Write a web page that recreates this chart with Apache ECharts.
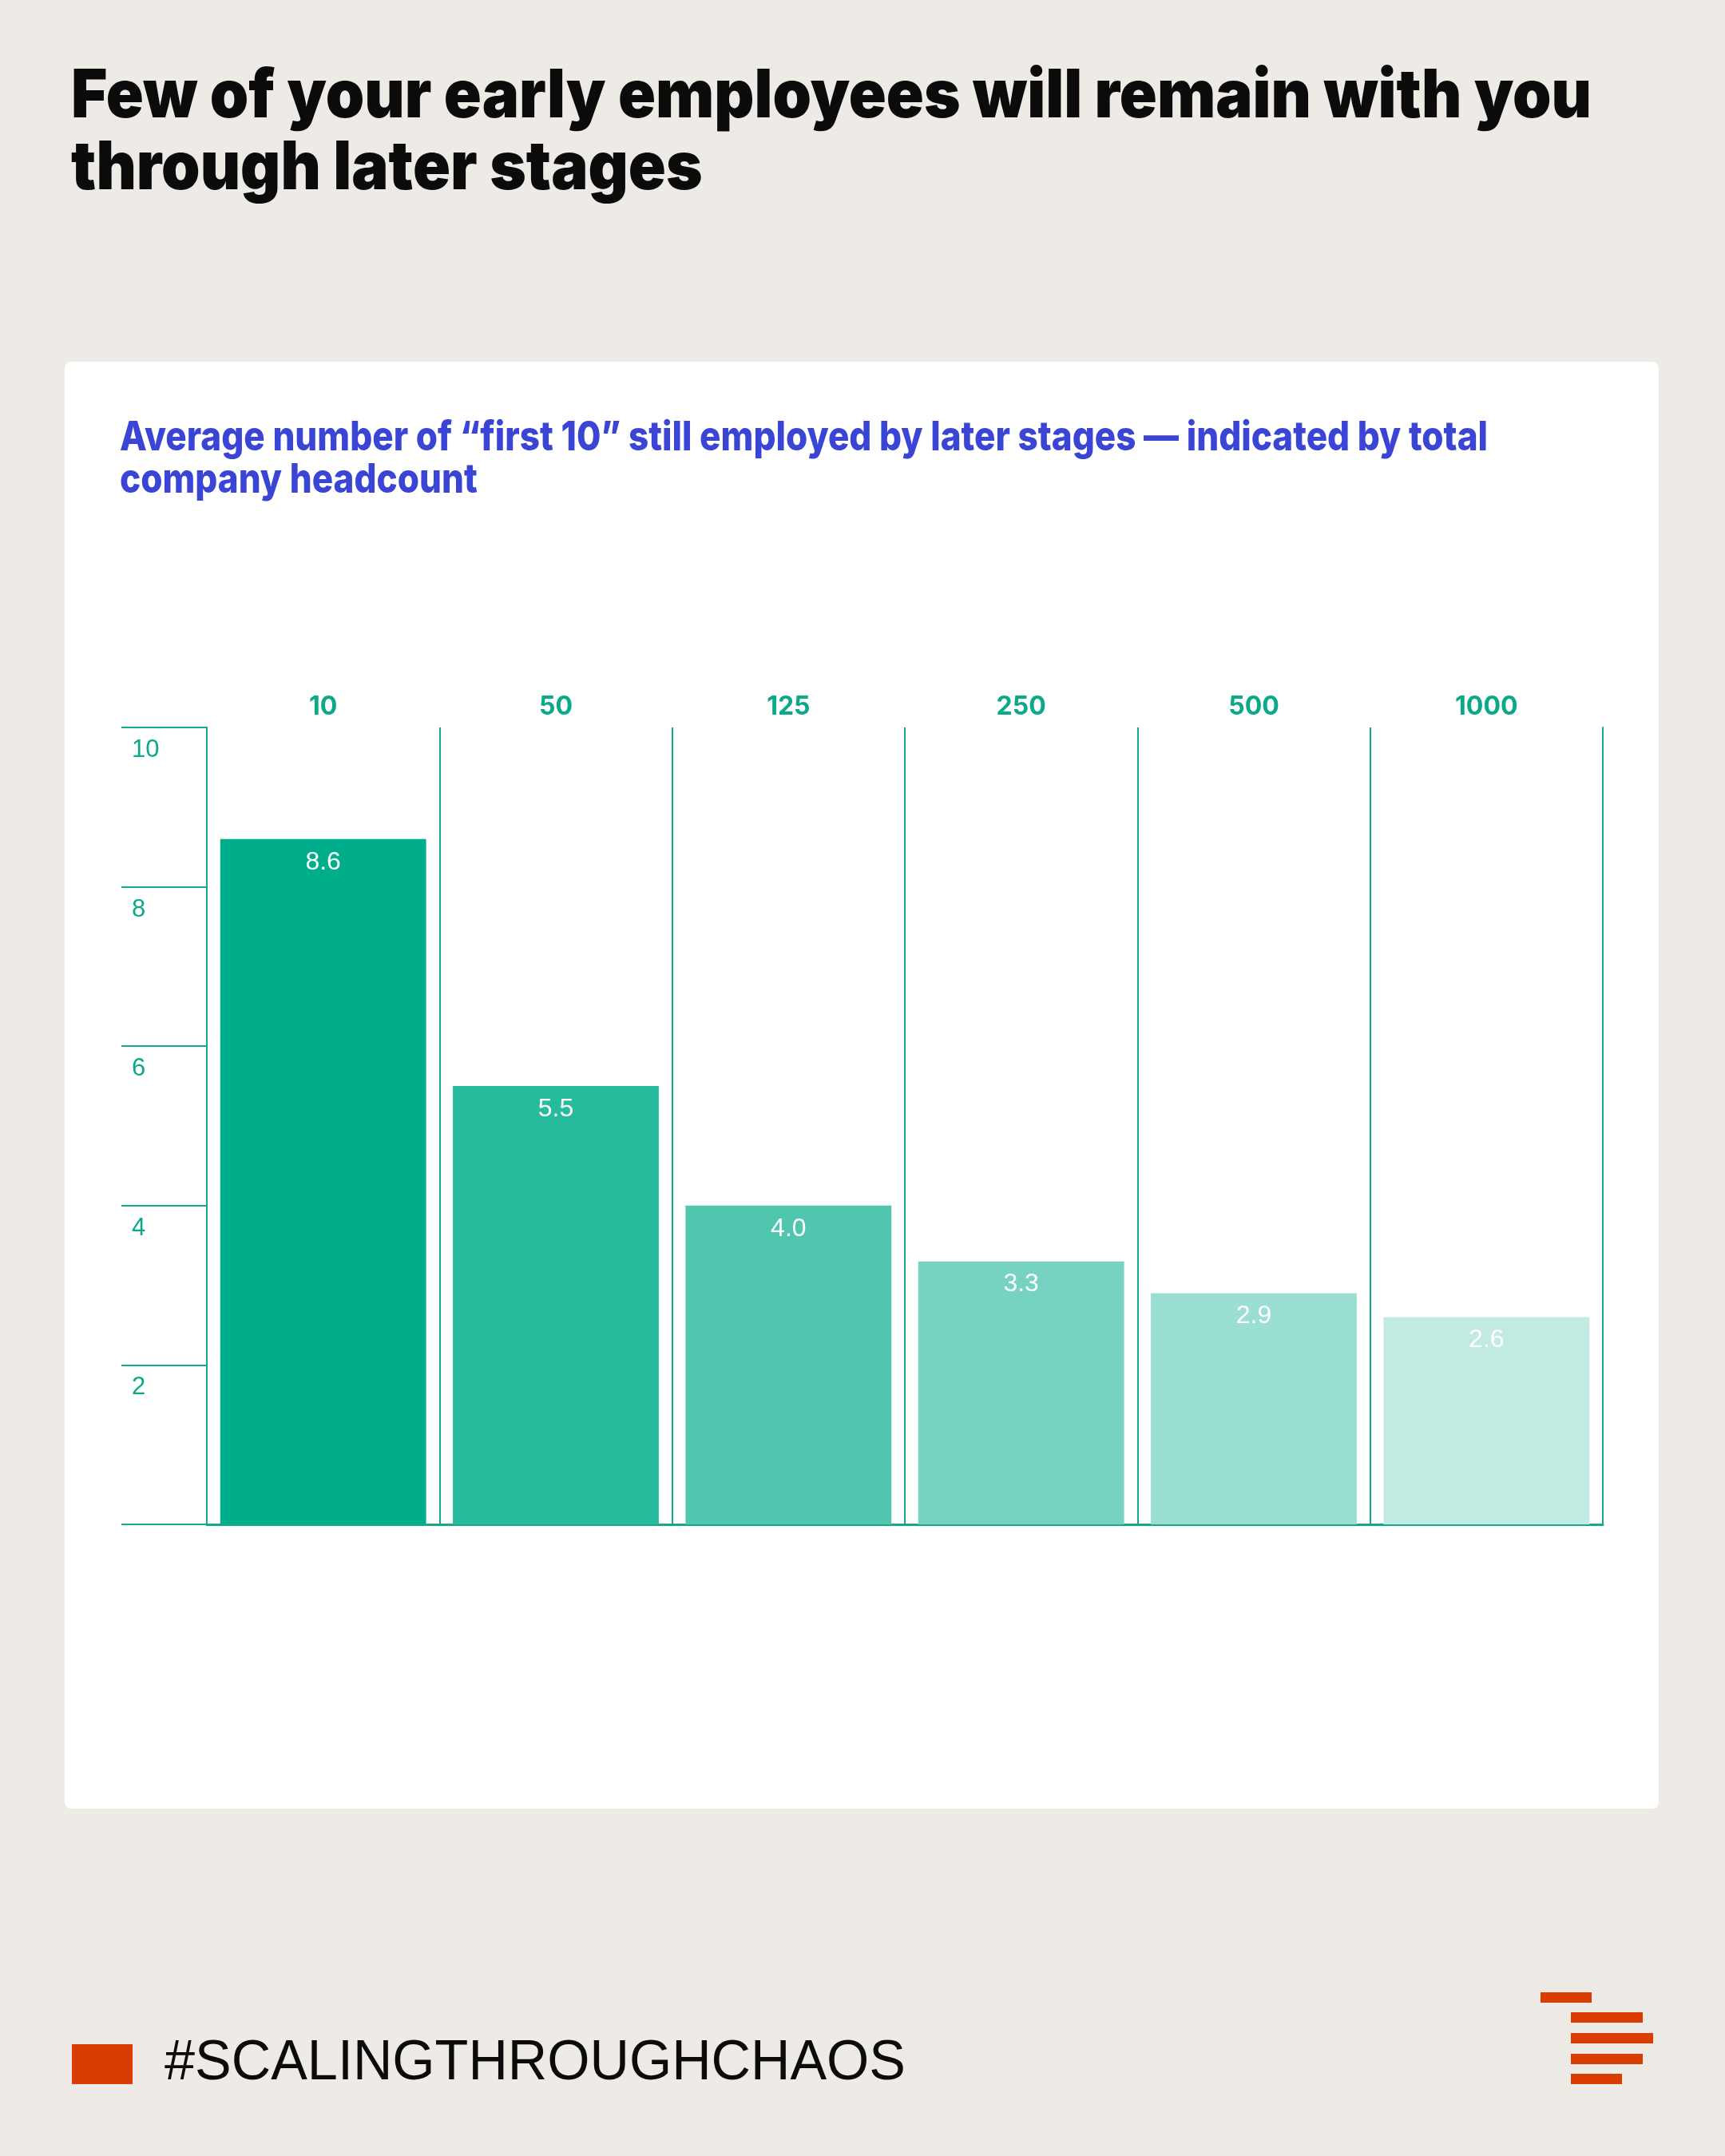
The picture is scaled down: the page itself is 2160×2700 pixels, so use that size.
<!DOCTYPE html>
<html><head><meta charset="utf-8">
<script src="https://cdn.jsdelivr.net/npm/echarts@6/dist/echarts.min.js"></script>
<style>html,body{margin:0;padding:0;background:#EEEBE6}#c{width:2160px;height:2700px}</style>
</head><body><div id="c"></div>
<script>
// ---- data ----
const categories = ['10', '50', '125', '250', '500', '1000'];
const values = [8.6, 5.5, 4.0, 3.3, 2.9, 2.6];
const yTickValues = [0, 2, 4, 6, 8, 10];
const titleLines = ['Few of your early employees will remain with you', 'through later stages'];
const subtitleLines = ['Average number of \u201cfirst 10\u201d still employed by later stages \u2014 indicated by total', 'company headcount'];
const footerText = '#SCALINGTHROUGHCHAOS';

// ---- styles ----
const barColors = ['#00AE8B', '#27BB9E', '#50C6AF', '#76D2C1', '#9BDFD3', '#C1EBE2'];
const lineColor = '#17A98B';
const labelColor = '#0AA98A';
const headFamily = 'Inter, sans-serif';

function textWidth(text, weight, size, family) {
  const ctx = document.createElement('canvas').getContext('2d');
  ctx.font = weight + ' ' + size + 'px ' + family;
  return ctx.measureText(text).width;
}
const titleSize = 84, titleWeight = '900';
const titleScale = 1904 / textWidth(titleLines[0], titleWeight, titleSize, headFamily);
const subSize = 51, subWeight = '800';
const subScale = 1713 / textWidth(subtitleLines[0], subWeight, subSize, headFamily);
const footFamily = '"Liberation Sans", Arial, sans-serif';
const footSize = 70;
const footScale = 928 / textWidth(footerText, 'normal', footSize, footFamily);

const chart = echarts.init(document.getElementById('c'), null, {renderer: 'canvas', width: 2160, height: 2700});

function txt(text, x, y, size, weight, family, fill, sx) {
  return {type: 'text', x: x, y: y, scaleX: sx, scaleY: 1,
    style: {text: text, fontSize: size, fontWeight: weight, fontFamily: family, fill: fill, align: 'left', verticalAlign: 'middle'}};
}

const graphics = [
  {type: 'rect', z: -100, shape: {x: 81, y: 453, width: 1996, height: 1812, r: 8}, style: {fill: '#FFFFFF'}},
  txt(titleLines[0], 89, 122, titleSize, titleWeight, headFamily, '#0B0B0B', titleScale),
  txt(titleLines[1], 89, 212, titleSize, titleWeight, headFamily, '#0B0B0B', titleScale),
  txt(subtitleLines[0], 150, 549, subSize, subWeight, headFamily, '#3B45D5', subScale),
  txt(subtitleLines[1], 150, 602, subSize, subWeight, headFamily, '#3B45D5', subScale),
  {type: 'rect', shape: {x: 90, y: 2560, width: 76, height: 50}, style: {fill: '#DA3C02'}},
  txt(footerText, 206, 2585, footSize, 'normal', footFamily, '#0B0B0B', footScale),
  {type: 'rect', shape: {x: 1929, y: 2495, width: 64, height: 13}, style: {fill: '#DA3C02'}},
  {type: 'rect', shape: {x: 1967, y: 2520, width: 90, height: 13}, style: {fill: '#DA3C02'}},
  {type: 'rect', shape: {x: 1967, y: 2546, width: 103, height: 13}, style: {fill: '#DA3C02'}},
  {type: 'rect', shape: {x: 1967, y: 2572, width: 90, height: 13}, style: {fill: '#DA3C02'}},
  {type: 'rect', shape: {x: 1967, y: 2597, width: 64, height: 13}, style: {fill: '#DA3C02'}}
];

const option = {
  backgroundColor: '#EEEBE6',
  animation: false,
  graphic: {elements: graphics},
  grid: {left: 259, right: 153, top: 911, bottom: 791, containLabel: false},
  xAxis: [
    {
      type: 'category', position: 'top', data: categories, boundaryGap: true,
      axisLine: {show: true, lineStyle: {color: lineColor, width: 2}},
      axisTick: {show: true, length: 27, inside: false, alignWithLabel: false, lineStyle: {color: lineColor, width: 2}},
      axisLabel: {show: true, margin: 10, fontSize: 32, fontWeight: 700, fontFamily: 'Inter, sans-serif', color: labelColor},
      splitLine: {show: true, lineStyle: {color: lineColor, width: 2}}
    },
    {
      type: 'category', position: 'bottom', data: categories, boundaryGap: true,
      axisLine: {show: true, lineStyle: {color: lineColor, width: 3}},
      axisTick: {show: false}, axisLabel: {show: false}, splitLine: {show: false}
    }
  ],
  yAxis: [
    {
      type: 'value', position: 'left', min: yTickValues[0], max: yTickValues[yTickValues.length - 1], interval: yTickValues[1] - yTickValues[0],
      axisLine: {show: true, lineStyle: {color: lineColor, width: 2}},
      axisTick: {show: true, length: 107, inside: false, lineStyle: {color: lineColor, width: 2}},
      axisLabel: {
        show: true, align: 'left', margin: 94, verticalAlign: 'top', padding: [13, 0, 0, 0],
        fontSize: 31, fontFamily: '"Liberation Sans", Arial, sans-serif', color: labelColor,
        formatter: v => (v === 0 ? '' : String(v))
      },
      splitLine: {show: false}
    },
    {
      type: 'value', position: 'right', min: yTickValues[0], max: yTickValues[yTickValues.length - 1], interval: yTickValues[1] - yTickValues[0],
      axisLine: {show: true, lineStyle: {color: lineColor, width: 2}},
      axisTick: {show: false}, axisLabel: {show: false}, splitLine: {show: false}
    }
  ],
  series: [{
    type: 'bar', xAxisIndex: 0, yAxisIndex: 0,
    barWidth: '88.5%',
    data: values.map((v, i) => ({value: v, itemStyle: {color: barColors[i]}})),
    label: {
      show: true, position: 'insideTop', distance: 13, color: '#FFFFFF',
      fontSize: 32, fontFamily: '"Liberation Sans", Arial, sans-serif',
      formatter: p => Number(p.value).toFixed(1)
    }
  }]
};
chart.setOption(option);
</script>
</body></html>
